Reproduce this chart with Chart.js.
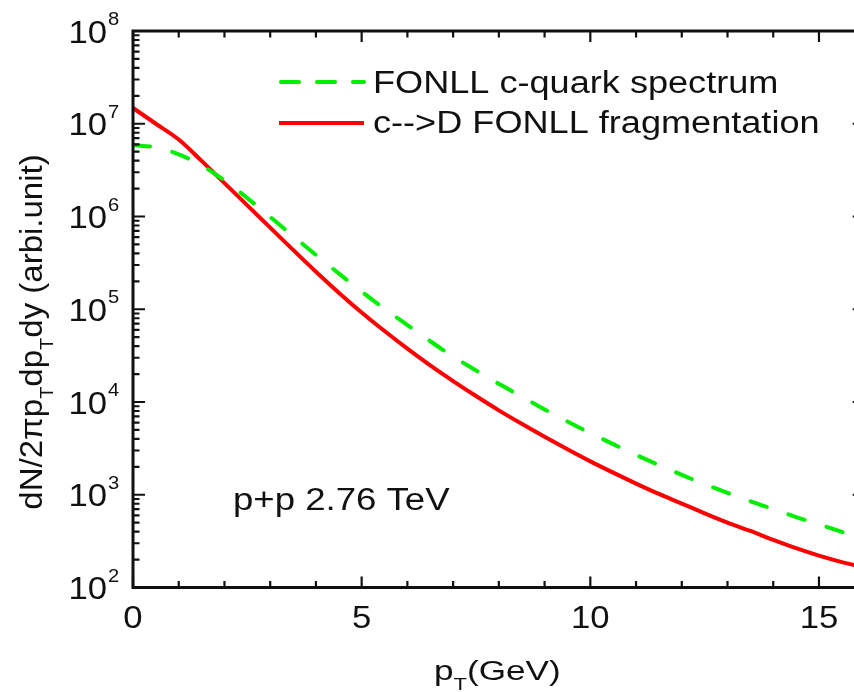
<!DOCTYPE html>
<html>
<head>
<meta charset="utf-8">
<script src="https://cdn.jsdelivr.net/npm/chart.js@4.4.1/dist/chart.umd.min.js"></script>
<style>
  html, body { margin: 0; padding: 0; background: #fff; overflow: hidden; }
  #wrap { width: 854px; height: 692px; overflow: hidden; }
</style>
</head>
<body>
<div id="wrap"><canvas id="spectrum" width="872" height="692"></canvas></div>
<script>
// pT grid (GeV)
const pT = [0, 0.5, 1, 1.5, 2, 2.5, 3, 3.5, 4, 4.5, 5, 5.5, 6, 6.5, 7, 7.5, 8,
            8.5, 9, 9.5, 10, 10.5, 11, 11.5, 12, 12.5, 13, 13.5, 14, 14.5, 15, 15.5, 16];

// FONLL charm quark spectrum
const cQuark = [5.89e6, 5.56e6, 4.68e6, 3.55e6, 2.45e6, 1.58e6, 9.89e5, 6.17e5, 3.85e5,
                2.43e5, 1.55e5, 1.01e5, 6.76e4, 4.52e4, 3.09e4, 2.19e4, 1.57e4, 1.14e4,
                8.32e3, 6.17e3, 4.62e3, 3.51e3, 2.69e3, 2.09e3, 1.64e3, 1.30e3, 1.05e3,
                851, 700, 575, 479, 398, 331];

// c --> D after FONLL fragmentation
const dMeson = [1.48e7, 1.00e7, 6.76e6, 3.98e6, 2.29e6, 1.32e6, 7.59e5, 4.37e5, 2.54e5,
                1.51e5, 9.23e4, 5.82e4, 3.76e4, 2.48e4, 1.68e4, 1.16e4, 8.13e3, 5.82e3,
                4.22e3, 3.09e3, 2.29e3, 1.73e3, 1.32e3, 1.02e3, 804, 631, 501,
                407, 327, 266, 221, 188, 164];

const xMajor = [0, 5, 10, 15];
const xTickLabels = ['0', '5', '10', '15'];
const yDecades = [2, 3, 4, 5, 6, 7, 8];

const legendLabels = ['FONLL c-quark spectrum', 'c-->D FONLL fragmentation'];
const GREEN = '#00ee00';
const RED = '#ff0000';
const INK = '#111111';
const FONT = '"Liberation Sans", Arial, sans-serif';

function pts(ys) { return pT.map((x, i) => ({ x: x, y: ys[i] })); }

function wideText(ctx, text, x, y, align, size, sx) {
    ctx.save();
    ctx.font = size + 'px ' + FONT;
    ctx.translate(x, y);
    ctx.scale(sx, 1);
    ctx.textAlign = align;
    ctx.textBaseline = 'alphabetic';
    ctx.fillText(text, 0, 0);
    ctx.restore();
}

// draws a run of [text, isSubscript] pieces starting at x
function richText(ctx, parts, x, y, size, sx, subDrop) {
    let cx = x;
    parts.forEach(([t, sub]) => {
        const fs = sub ? Math.round(size * 0.62) : size;
        ctx.font = fs + 'px ' + FONT;
        const w = ctx.measureText(t).width * sx;
        ctx.save();
        ctx.translate(cx, y + (sub ? size * subDrop : 0));
        ctx.scale(sx, 1);
        ctx.textAlign = 'left';
        ctx.fillText(t, 0, 0);
        ctx.restore();
        cx += w;
    });
    return cx;
}

function richWidth(ctx, parts, size, sx) {
    let w = 0;
    parts.forEach(([t, sub]) => {
        ctx.font = (sub ? Math.round(size * 0.62) : size) + 'px ' + FONT;
        w += ctx.measureText(t).width * sx;
    });
    return w;
}

const framePlugin = {
    id: 'frame',
    afterDraw(chart) {
        const ctx = chart.ctx;
        const a = chart.chartArea;
        const xs = chart.scales.x, ys = chart.scales.y;
        ctx.save();
        ctx.strokeStyle = INK;
        ctx.fillStyle = INK;

        // box
        ctx.lineWidth = 3;
        ctx.strokeRect(a.left, a.top, a.right - a.left, a.bottom - a.top);

        // x ticks, inward on bottom and top
        ctx.lineWidth = 2.2;
        ctx.beginPath();
        for (let v = 0; v <= 16; v++) {
            const px = xs.getPixelForValue(v);
            const len = xMajor.includes(v) ? 11 : 6.5;
            ctx.moveTo(px, a.bottom); ctx.lineTo(px, a.bottom - len);
            ctx.moveTo(px, a.top); ctx.lineTo(px, a.top + len);
        }
        // y ticks, inward on left and right
        yDecades.forEach(d => {
            for (let k = 1; k <= 9; k++) {
                const v = k * Math.pow(10, d);
                if (v > 1e8) break;
                const py = ys.getPixelForValue(v);
                const len = k === 1 ? 12 : 6.5;
                ctx.moveTo(a.left, py); ctx.lineTo(a.left + len, py);
                ctx.moveTo(a.right, py); ctx.lineTo(a.right - len, py);
            }
        });
        ctx.stroke();

        // x tick labels
        xMajor.forEach((v, i) => {
            wideText(ctx, xTickLabels[i], xs.getPixelForValue(v), a.bottom + 40, 'center', 31, 1.12);
        });

        // y tick labels 10^n
        yDecades.forEach(d => {
            const py = ys.getPixelForValue(Math.pow(10, d));
            wideText(ctx, '10', 107, py + 11.5, 'right', 31, 1.12);
            wideText(ctx, String(d), 108, py - 6, 'left', 18, 1.12);
        });

        // x title
        richText(ctx, [['p', false], ['T', true], ['(GeV)', false]], 434, 680, 27, 1.3, 0.36);

        // y title, rotated
        const yTitle = [['dN/2\u03C0p', false], ['T', true], ['dp', false], ['T', true], ['dy (arbi.unit)', false]];
        ctx.save();
        ctx.translate(32, 332);
        ctx.rotate(-Math.PI / 2);
        ctx.scale(1, 0.95);
        const tw = richWidth(ctx, yTitle, 33, 1);
        richText(ctx, yTitle, -tw / 2, 11, 33, 1, 0.34);
        ctx.restore();

        // legend
        const rows = [
            { y: 82, base: 93, color: GREEN, dash: [18, 18], text: legendLabels[0] },
            { y: 123, base: 133, color: RED, dash: [], text: legendLabels[1] }
        ];
        rows.forEach(r => {
            ctx.save();
            ctx.strokeStyle = r.color;
            ctx.lineWidth = 4;
            ctx.lineCap = r.dash.length ? 'round' : 'butt';
            ctx.setLineDash(r.dash);
            ctx.beginPath();
            ctx.moveTo(r.dash.length ? 281 : 279, r.y);
            ctx.lineTo(364, r.y);
            ctx.stroke();
            ctx.restore();
            wideText(ctx, r.text, 373, r.base, 'left', 31, 1.165);
        });

        // collision system
        wideText(ctx, 'p+p 2.76 TeV', 233, 510, 'left', 31, 1.18);
        ctx.restore();
    }
};

new Chart(document.getElementById('spectrum'), {
    type: 'line',
    data: {
        datasets: [
            {
                label: legendLabels[0],
                data: pts(cQuark),
                borderColor: GREEN,
                borderWidth: 4,
                borderDash: [17, 23],
                borderCapStyle: 'round',
                pointRadius: 0,
                cubicInterpolationMode: 'monotone',
                fill: false
            },
            {
                label: legendLabels[1],
                data: pts(dMeson),
                borderColor: RED,
                borderWidth: 4,
                pointRadius: 0,
                cubicInterpolationMode: 'monotone',
                fill: false
            }
        ]
    },
    options: {
        responsive: false,
        animation: false,
        layout: { padding: { left: 133, top: 31, right: 7.3, bottom: 104.5 } },
        plugins: { legend: { display: false }, tooltip: { enabled: false } },
        scales: {
            x: { type: 'linear', min: 0, max: 16, display: false },
            y: { type: 'logarithmic', min: 100, max: 1e8, display: false }
        }
    },
    plugins: [framePlugin]
});
</script>
</body>
</html>
